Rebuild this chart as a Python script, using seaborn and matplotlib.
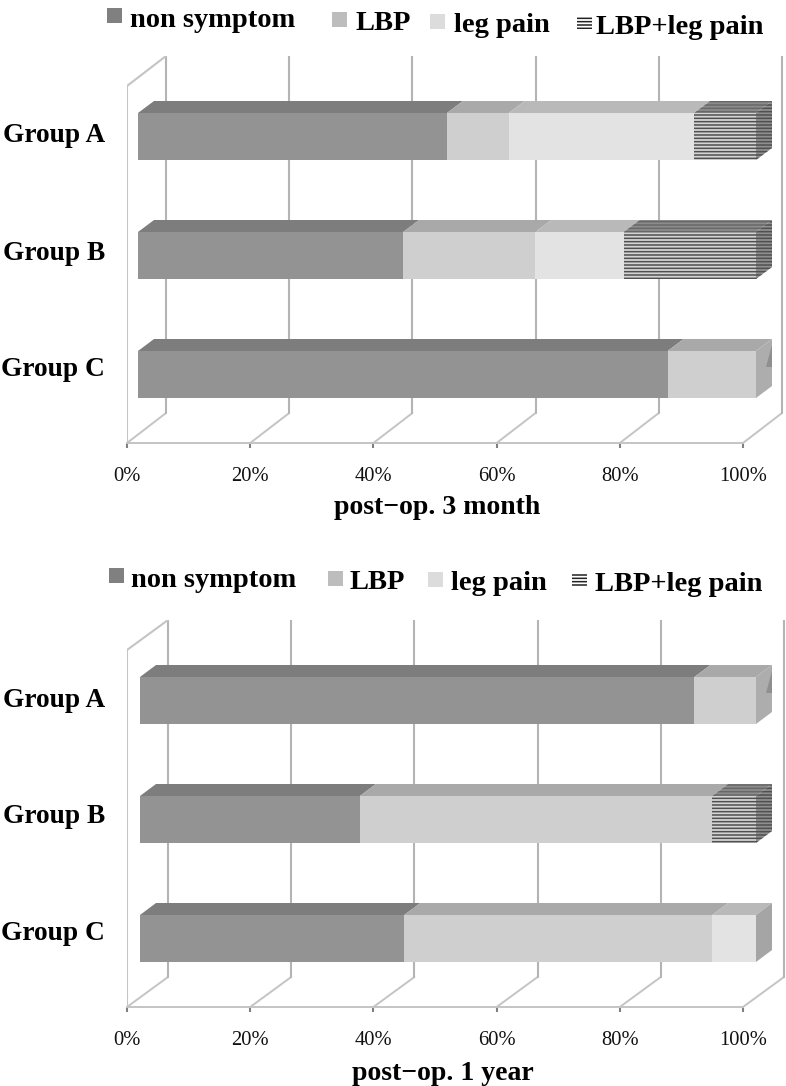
import matplotlib
matplotlib.use("Agg")
import matplotlib.pyplot as plt
from matplotlib.patches import Rectangle
from matplotlib.transforms import ScaledTranslation
import numpy as np
import seaborn as sns

groups = ["Group A", "Group B", "Group C"]
tick_values = [0, 20, 40, 60, 80, 100]
tick_labels = ["0%", "20%", "40%", "60%", "80%", "100%"]
series_names = ["non symptom", "LBP", "leg pain", "LBP+leg pain"]

# percent of patients
m3_none = [50.0, 42.9, 85.7]
m3_lbp = [10.0, 21.4, 14.3]
m3_leg = [30.0, 14.3, 0.0]
m3_both = [10.0, 21.4, 0.0]

y1_none = [90.0, 35.7, 42.9]
y1_lbp = [10.0, 57.2, 50.0]
y1_leg = [0.0, 0.0, 7.1]
y1_both = [0.0, 7.1, 0.0]

front_colors = ["#939393", "#cfcfcf", "#e3e3e3", "#d4d4d4"]
top_colors = ["#7d7d7d", "#a9a9a9", "#b9b9b9", "#8c8c8c"]
side_colors = ["#7d7d7d", "#adadad", "#a5a5a5", "#8f8f8f"]
legend_colors = ["#808080", "#bdbdbd", "#dcdcdc"]
wall_color = "#c4c4c4"
grid_color = "#b4b4b4"

W, H = 786, 1086

sns.set_style("white")
plt.rcParams["font.family"] = ["Liberation Serif", "DejaVu Serif"]
plt.rcParams["hatch.linewidth"] = 1.1

fig = plt.figure(figsize=(W / 100, H / 100), dpi=100)


def draw_panel(series, bar_px, center_px, top_px, floor_px, wall_px, xlabel, label_px, label_shift):
    # axes covers the chart box in pixels, bars use plain percent on x
    ax = fig.add_axes([127 / W, 1 - floor_px / H, 658 / W, (floor_px - top_px) / H])
    px_per_pct = (bar_px[1] - bar_px[0]) / 100
    step = center_px[1] - center_px[0]
    ax.set_xlim((127 - bar_px[0]) / px_per_pct, (785 - bar_px[0]) / px_per_pct)
    ylim = ((floor_px - center_px[0]) / step, (top_px - center_px[0]) / step)

    # axis ticks sit on the front plane, which is shifted from the bars
    ticks = [((127 + 6.16 * v) - bar_px[0]) / px_per_pct for v in tick_values]
    wall_dx = (wall_px - 127) / px_per_pct
    wall_dy = 30 / step
    bar_h = 47 / step
    dx = 16 / px_per_pct
    dy = 12 / step

    for t in ticks:
        ax.plot([t, t + wall_dx], [ylim[0], ylim[0] - wall_dy], color=wall_color, lw=1.4, zorder=1)
        ax.plot([t + wall_dx, t + wall_dx], [ylim[0] - wall_dy, ylim[1]], color=grid_color, lw=1.5, zorder=1)
    ax.plot([ticks[0], ticks[0], ticks[0] + wall_dx], [ylim[0], ylim[1] + wall_dy, ylim[1]],
            color=wall_color, lw=1.5, zorder=1)

    left = np.zeros(3)
    values = np.array(series)
    for i, vals in enumerate(values):
        hatch = "-----" if i == 3 else None
        sns.barplot(x=vals, y=groups, left=left, color=front_colors[i], saturation=1, orient="h",
                    width=bar_h, errorbar=None, hatch=hatch, edgecolor="#505050" if hatch else "none",
                    linewidth=0, ax=ax, zorder=3)
        for k in range(3):
            if vals[k] == 0:
                continue
            y0 = k - bar_h / 2
            x0, x1 = left[k], left[k] + vals[k]
            ax.fill([x0, x1, x1 + dx, x0 + dx], [y0, y0, y0 - dy, y0 - dy], facecolor=top_colors[i],
                    hatch=hatch, edgecolor="#686868" if hatch else "none", linewidth=0, zorder=3)
            if x1 > 99.9:
                ax.fill([x1, x1 + dx, x1 + dx, x1], [y0, y0 - dy, y0 - dy + bar_h, y0 + bar_h],
                        facecolor=side_colors[i], hatch=hatch,
                        edgecolor="#505050" if hatch else "none", linewidth=0, zorder=3)
                # dark sliver left by the empty segments
                if values[2][k] == 0 and values[3][k] == 0:
                    ax.fill([x1 + dx * 0.65, x1 + dx, x1 + dx], [y0 + bar_h * 0.33, y0 + bar_h * 0.33, y0 - dy * 0.5],
                            facecolor="#8f8f8f", linewidth=0, zorder=4)
        left = left + vals

    ax.set_xlim((127 - bar_px[0]) / px_per_pct, (785 - bar_px[0]) / px_per_pct)
    ax.set_ylim(*ylim)
    ax.set_xticks(ticks)
    ax.set_xticklabels(tick_labels, fontsize=14.8)
    ax.tick_params(axis="x", bottom=True, length=3.5, width=1.5, color="#808080", pad=14, labelcolor="#111111")
    ax.tick_params(axis="y", left=False, length=0, pad=16)
    for lab, shift in zip(ax.get_yticklabels(), label_shift):
        lab.set_fontsize(19.7)
        lab.set_fontweight("bold")
        lab.set_color("black")
        # group labels drift upward from the bar centres in the reference
        lab.set_transform(lab.get_transform() + ScaledTranslation(0, shift / 100, fig.dpi_scale_trans))
    ax.set_ylabel("")
    sns.despine(ax=ax, left=True, right=True, top=True)
    ax.spines["bottom"].set_color(wall_color)
    ax.spines["bottom"].set_linewidth(1.4)
    ax.spines["bottom"].set_bounds(ticks[0], ticks[-1])
    ax.patch.set_visible(False)
    ax.set_xlabel(xlabel, fontsize=20, fontweight="bold", va="baseline", color="black")
    ax.xaxis.set_label_coords((label_px[0] - 127) / 658, -(label_px[1] - floor_px) / (floor_px - top_px))
    return ax


def draw_legend(items):
    # entries are not evenly spaced in the reference, so place each one
    for i, (box_x, box_y, text_x, base_y) in enumerate(items):
        if i < 3:
            patch = Rectangle((box_x / W, 1 - (box_y + 15) / H), 15 / W, 15 / H, facecolor=legend_colors[i],
                              edgecolor="none", transform=fig.transFigure)
        else:
            patch = Rectangle((box_x / W, 1 - (box_y + 13) / H), 15 / W, 13 / H, facecolor="white", hatch="-----",
                              edgecolor="#222222", linewidth=0, transform=fig.transFigure)
        fig.add_artist(patch)
        fig.text(text_x / W, 1 - base_y / H, series_names[i], fontsize=20.5, fontweight="bold", color="black",
                 va="baseline", ha="left")


draw_panel([m3_none, m3_lbp, m3_leg, m3_both], (138, 756), [136.5, 255.5, 374.5], 56, 443, 166,
           "post\u2212op. 3 month", (437, 514), [3.5, 5.5, 7.5])
draw_panel([y1_none, y1_lbp, y1_leg, y1_both], (140, 756), [700.5, 819.5, 938], 620, 1007, 168,
           "post\u2212op. 1 year", (443, 1080), [3, 6, 8])

draw_legend([(107, 8, 130, 27), (332, 12, 355, 30), (430, 14, 454, 32), (577, 16, 596, 34)])
draw_legend([(109, 568, 131, 587), (328, 571, 350, 589), (428, 572, 451, 590), (572, 574, 595, 591)])

fig.savefig("out.png", dpi=100)
